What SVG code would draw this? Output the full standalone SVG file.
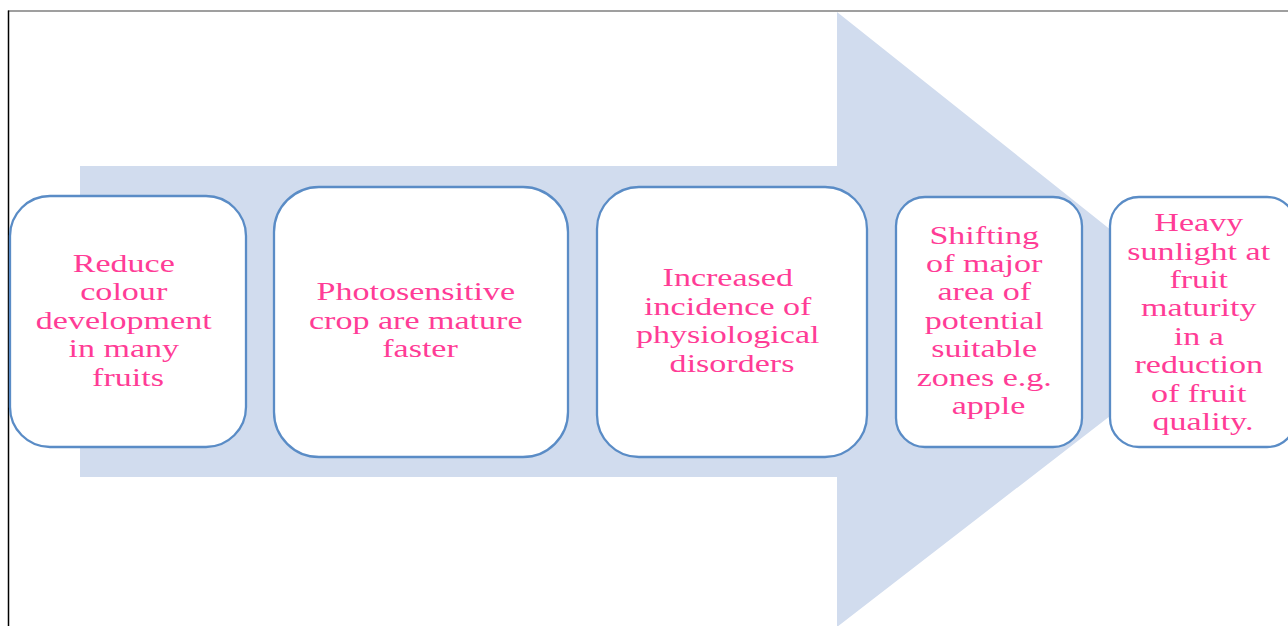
<svg xmlns="http://www.w3.org/2000/svg" width="1288" height="626" viewBox="0 0 1288 626">
  <style>
    .box { fill: #ffffff; stroke: #5A8CC6; stroke-width: 2.3; }
    .lbl { font-family: "Liberation Serif", "Times New Roman", serif; font-size: 26px; fill: #FF3C96; text-anchor: middle; }
  </style>
  <rect x="0" y="0" width="1288" height="626" fill="#ffffff"/>
  <g id="frame">
    <line x1="8" y1="11" x2="1288" y2="11" stroke="#7F7F7F" stroke-width="1.5"/>
    <line x1="8.5" y1="10.5" x2="8.5" y2="626" stroke="#000000" stroke-width="1.5"/>
  </g>
  <g id="connectors">
    <polygon id="big-arrow" points="80,166 837,166 837,12 1229,324 837,627 837,477 80,477" fill="#D1DCEE"/>
  </g>
  <g id="node1">
    <rect class="box" x="10" y="196" width="236" height="251" rx="40" ry="40"/>
    <text class="lbl" transform="matrix(1.31 0 0 1 128 0)">
      <tspan x="0" y="272">Reduce</tspan>
      <tspan x="0" y="300.5">colour</tspan>
      <tspan x="0" y="329">development</tspan>
      <tspan x="0" y="357.5">in many</tspan>
      <tspan x="0" y="386">fruits</tspan>
    </text>
  </g>
  <g id="node2">
    <rect class="box" x="274" y="187" width="294" height="270" rx="45" ry="45"/>
    <text class="lbl" transform="matrix(1.31 0 0 1 420 0)">
      <tspan x="0" y="300.5">Photosensitive</tspan>
      <tspan x="0" y="329">crop are mature</tspan>
      <tspan x="0" y="357.5">faster</tspan>
    </text>
  </g>
  <g id="node3">
    <rect class="box" x="597" y="187" width="270" height="270" rx="42" ry="42"/>
    <text class="lbl" transform="matrix(1.31 0 0 1 732 0)">
      <tspan x="0" y="286.5">Increased</tspan>
      <tspan x="0" y="315">incidence of</tspan>
      <tspan x="0" y="343.5">physiological</tspan>
      <tspan x="0" y="372">disorders</tspan>
    </text>
  </g>
  <g id="node4">
    <rect class="box" x="896" y="197" width="186" height="250" rx="29" ry="29"/>
    <text class="lbl" transform="matrix(1.31 0 0 1 988.5 0)">
      <tspan x="0" y="244">Shifting</tspan>
      <tspan x="0" y="272">of major</tspan>
      <tspan x="0" y="300.5">area of</tspan>
      <tspan x="0" y="329">potential</tspan>
      <tspan x="0" y="357.5">suitable</tspan>
      <tspan x="0" y="386">zones e.g.</tspan>
      <tspan x="0" y="414">apple</tspan>
    </text>
  </g>
  <g id="node5">
    <rect class="box" x="1110" y="197" width="186" height="250" rx="29" ry="29"/>
    <text class="lbl" transform="matrix(1.31 0 0 1 1203 0)">
      <tspan x="0" y="231.5">Heavy</tspan>
      <tspan x="0" y="260">sunlight at</tspan>
      <tspan x="0" y="288">fruit</tspan>
      <tspan x="0" y="316.5">maturity</tspan>
      <tspan x="0" y="345">in a</tspan>
      <tspan x="0" y="373.5">reduction</tspan>
      <tspan x="0" y="402">of fruit</tspan>
      <tspan x="0" y="430">quality.</tspan>
    </text>
  </g>
</svg>
